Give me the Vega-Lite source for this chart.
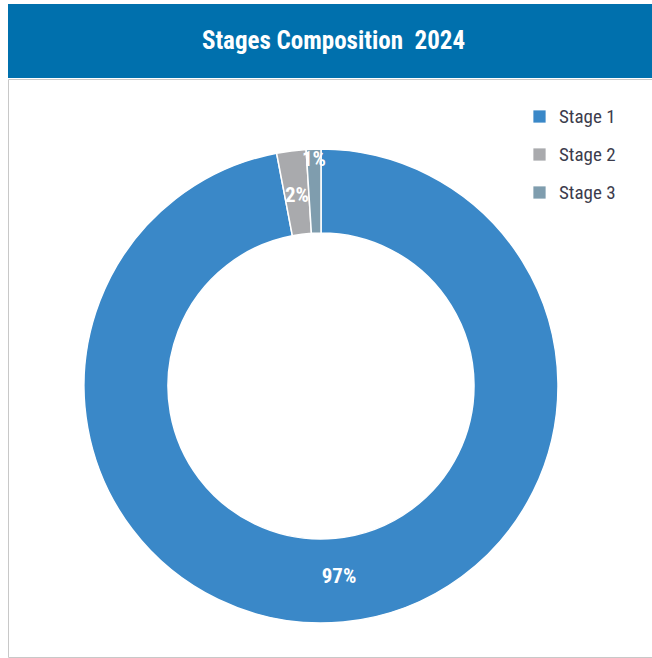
{
  "$schema": "https://vega.github.io/schema/vega-lite/v6.json",
  "padding": {"left": 7, "top": 4, "right": 0, "bottom": 0},
  "background": "white",
  "spacing": 0,
  "config": {"view": {"stroke": null}, "font": "Roboto Condensed, DejaVu Sans Condensed, Liberation Sans Narrow, Roboto, sans-serif"},
  "datasets": {
    "stages": [
      {"stage": "Stage 1", "value": 0.97},
      {"stage": "Stage 2", "value": 0.02},
      {"stage": "Stage 3", "value": 0.01}
    ],
    "header": [{"title": "Stages Composition\u00a0 2024"}]
  },
  "vconcat": [
    {
      "width": 645,
      "height": 74,
      "view": {"fill": "#0070AD", "stroke": null},
      "data": {"name": "header"},
      "mark": {"type": "text", "color": "white", "fontSize": 25, "fontWeight": "bold", "dx": 3, "font": "Roboto Condensed, DejaVu Sans Condensed, Liberation Sans Narrow, Roboto, sans-serif"},
      "encoding": {"text": {"field": "title", "type": "nominal"}}
    },
    {
      "width": 645,
      "height": 578,
      "view": {"stroke": "#c8c8c8", "fill": "white"},
      "data": {"name": "stages"},
      "encoding": {
        "theta": {"field": "value", "type": "quantitative", "stack": true},
        "order": {"field": "stage", "type": "ordinal"}
      },
      "layer": [
        {
          "mark": {"type": "arc", "innerRadius": 153, "outerRadius": 237, "stroke": "white", "strokeWidth": 1.5, "xOffset": -9.5, "yOffset": 18},
          "encoding": {
            "color": {
              "field": "stage",
              "type": "nominal",
              "scale": {"domain": ["Stage 1", "Stage 2", "Stage 3"], "range": ["#3A88C8", "#A9AAAD", "#7F9DAE"]},
              "legend": {
                "title": null,
                "orient": "none",
                "legendX": 522,
                "legendY": 103,
                "symbolType": "square",
                "symbolSize": 150,
                "symbolStrokeWidth": 0,
                "labelFontSize": 19,
                "labelFont": "Roboto Condensed, DejaVu Sans Condensed, Liberation Sans Narrow, Roboto, sans-serif",
                "labelColor": "#3C3C4C",
                "labelOffset": 10,
                "rowPadding": 18
              }
            }
          }
        },
        {
          "mark": {"type": "text", "radius": 192, "xOffset": -9.5, "yOffset": 18, "fontSize": 21, "fontWeight": "bold", "fill": "white", "font": "Roboto Condensed, DejaVu Sans Condensed, Liberation Sans Narrow, Roboto, sans-serif"},
          "encoding": {
            "text": {"field": "value", "type": "quantitative", "format": ".0%"},
            "detail": {"field": "stage", "type": "nominal"},
            "opacity": {"condition": {"test": "datum.value < 0.015", "value": 0}, "value": 1}
          }
        },
        {
          "mark": {"type": "text", "radius": 226, "xOffset": -9.5, "yOffset": 18, "fontSize": 21, "fontWeight": "bold", "fill": "white", "font": "Roboto Condensed, DejaVu Sans Condensed, Liberation Sans Narrow, Roboto, sans-serif"},
          "encoding": {
            "text": {"field": "value", "type": "quantitative", "format": ".0%"},
            "detail": {"field": "stage", "type": "nominal"},
            "opacity": {"condition": {"test": "datum.value < 0.015", "value": 1}, "value": 0}
          }
        }
      ]
    }
  ]
}
